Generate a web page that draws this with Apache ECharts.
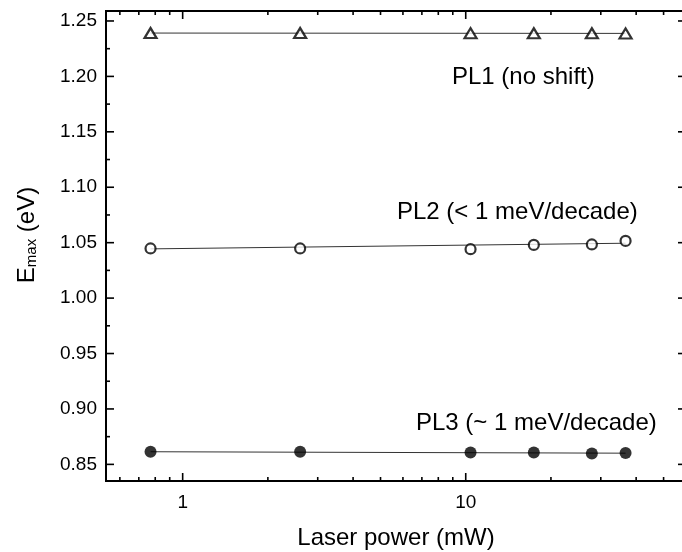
<!DOCTYPE html>
<html>
<head>
<meta charset="utf-8">
<script src="https://cdn.jsdelivr.net/npm/echarts@6/dist/echarts.min.js"></script>
<style>
  html, body { margin: 0; padding: 0; background: #fff; }
  #chart { width: 682px; height: 552px; }
</style>
</head>
<body>
<div id="chart"></div>
<script>
// laser power (mW), same for all three peaks
const power = [0.77, 2.6, 10.4, 17.4, 27.9, 36.7];
const pl1 = [1.2391, 1.2391, 1.2390, 1.2389, 1.2389, 1.2388];
const pl2 = [1.0448, 1.0448, 1.0441, 1.0480, 1.0484, 1.0516];
const pl3 = [0.8614, 0.8614, 0.8608, 0.8608, 0.8599, 0.8602];
// linear fits (end points)
const fitX = [0.77, 36.7];
const fit1 = [1.2391, 1.2388];
const fit2 = [1.0444, 1.0495];
const fit3 = [0.8614, 0.8601];

const xMajor = [1, 10];
const xMinor = [0.6, 0.7, 0.8, 0.9, 2, 3, 4, 5, 6, 7, 8, 9, 20, 30, 40, 50];
const yMajor = [0.85, 0.90, 0.95, 1.00, 1.05, 1.10, 1.15, 1.20, 1.25];
const yMinor = [0.875, 0.925, 0.975, 1.025, 1.075, 1.125, 1.175, 1.225];

const xMin = 0.536, xMax = 60;
const yMin = 0.835, yMax = 1.259;

const chart = echarts.init(document.getElementById('chart'));
const font = 'Liberation Sans, Arial, sans-serif';

const pair = (xs, ys) => xs.map((x, i) => [x, ys[i]]);

function tickSeries(axis, values, len) {
  return {
    type: 'custom',
    silent: true,
    z: 10,
    data: values.map(v => axis === 'x' ? [v, yMin] : [xMin, v]),
    renderItem: (params, api) => {
      const cs = params.coordSys;
      const p = api.coord([api.value(0), api.value(1)]);
      const st = { stroke: '#000', lineWidth: 1.6 };
      if (axis === 'x') {
        const b = cs.y + cs.height, t = cs.y;
        return { type: 'group', children: [
          { type: 'line', shape: { x1: p[0], y1: b, x2: p[0], y2: b - len }, style: st },
          { type: 'line', shape: { x1: p[0], y1: t, x2: p[0], y2: t + len }, style: st }
        ] };
      }
      const l = cs.x, r = cs.x + cs.width;
      return { type: 'group', children: [
        { type: 'line', shape: { x1: l, y1: p[1], x2: l + len, y2: p[1] }, style: st },
        { type: 'line', shape: { x1: r, y1: p[1], x2: r - len, y2: p[1] }, style: st }
      ] };
    }
  };
}

function fitSeries(ys) {
  return {
    type: 'line',
    data: pair(fitX, ys),
    symbol: 'none',
    silent: true,
    lineStyle: { color: '#333', width: 1 },
    z: 2
  };
}

chart.setOption({
  animation: false,
  grid: {
    left: 106, top: 11, width: 580, height: 470,
    outerBoundsMode: 'none',
    containLabel: false,
    show: true, borderColor: '#000', borderWidth: 2
  },
  xAxis: {
    type: 'log',
    logBase: 10,
    min: xMin, max: xMax,
    axisLine: { show: false },
    axisTick: { show: false },
    splitLine: { show: false },
    axisLabel: {
      color: '#000', fontFamily: font, fontSize: 19, margin: 12,
      formatter: v => (Math.abs(v - 1) < 1e-6 || Math.abs(v - 10) < 1e-6) ? String(Math.round(v)) : ''
    },
    name: 'Laser power (mW)',
    nameLocation: 'middle',
    nameGap: 45,
    nameTextStyle: { color: '#000', fontFamily: font, fontSize: 24 }
  },
  yAxis: {
    type: 'value',
    min: yMin, max: yMax,
    splitNumber: 8,
    axisLine: { show: false },
    axisTick: { show: false },
    splitLine: { show: false },
    axisLabel: {
      color: '#000', fontFamily: font, fontSize: 19, margin: 9,
      showMinLabel: false, showMaxLabel: false,
      formatter: v => Math.abs(v * 20 - Math.round(v * 20)) < 1e-6 ? v.toFixed(2) : ''
    },
    name: '{e|E}{s|max}{e| (eV)}',
    nameLocation: 'middle',
    nameRotate: 90,
    nameGap: 67,
    nameTextStyle: {
      padding: [0, 0, 0, 22],
      rich: {
        e: { color: '#000', fontFamily: font, fontSize: 24 },
        s: { color: '#000', fontFamily: font, fontSize: 15, padding: [9, 0, 0, 0] }
      }
    }
  },
  series: [
    fitSeries(fit1),
    fitSeries(fit2),
    fitSeries(fit3),
    {
      type: 'scatter', data: pair(power, pl1),
      symbol: 'triangle', symbolSize: [12, 10],
      itemStyle: { color: '#fff', borderColor: '#000', borderWidth: 2.2 }, z: 5
    },
    {
      type: 'scatter', data: pair(power, pl2),
      symbol: 'circle', symbolSize: 10,
      itemStyle: { color: '#fff', borderColor: '#000', borderWidth: 2.2 }, z: 5
    },
    {
      type: 'scatter', data: pair(power, pl3),
      symbol: 'circle', symbolSize: 12,
      itemStyle: { color: '#000' }, z: 5
    },
    tickSeries('x', xMajor, 8),
    tickSeries('x', xMinor, 4),
    tickSeries('y', yMajor, 8),
    tickSeries('y', yMinor, 4)
  ],
  graphic: [
    { type: 'text', left: 452, top: 65, style: { text: 'PL1 (no shift)', font: '24px ' + font, fill: '#000' } },
    { type: 'text', left: 397, top: 200, style: { text: 'PL2 (< 1 meV/decade)', font: '24px ' + font, fill: '#000' } },
    { type: 'text', left: 416, top: 411, style: { text: 'PL3 (~ 1 meV/decade)', font: '24px ' + font, fill: '#000' } }
  ]
});
</script>
</body>
</html>
